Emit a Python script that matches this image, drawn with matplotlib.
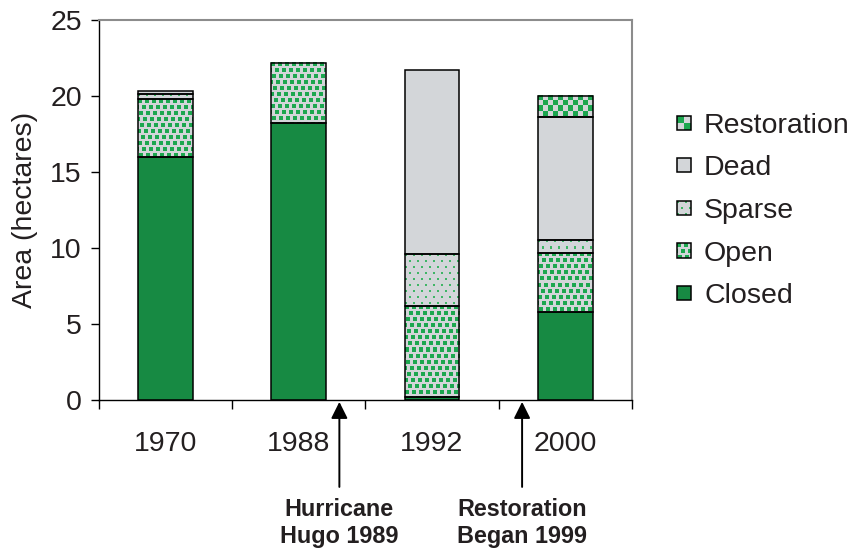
import matplotlib
matplotlib.use("Agg")
import matplotlib.pyplot as plt
import numpy as np
from matplotlib.patches import Patch, Rectangle
from matplotlib.legend_handler import HandlerBase
from matplotlib.ticker import FixedLocator

plt.rcParams['font.family'] = ['Liberation Sans', 'DejaVu Sans']

# ---------------------------------------------------------------------------
# Data (hectares)
# ---------------------------------------------------------------------------
years = ['1970', '1988', '1992', '2000']
closed = [16.0, 18.2, 0.2, 5.8]
open_ = [3.8, 4.0, 6.0, 3.9]
sparse = [0.3, 0.0, 3.4, 0.8]
dead = [0.2, 0.0, 12.1, 8.1]
restoration = [0.0, 0.0, 0.0, 1.4]

series_names = ['Closed', 'Open', 'Sparse', 'Dead', 'Restoration']
series_vals = [closed, open_, sparse, dead, restoration]

events = ['Hurricane\nHugo 1989', 'Restoration\nBegan 1999']
event_pos = [1.306, 2.676]   # position along the category axis

# ---------------------------------------------------------------------------
# Style
# ---------------------------------------------------------------------------
GREEN = '#178a43'
DOT = '#1ca74f'
LIGHT_DOT = '#3fb565'
GRAY = '#d3d6d9'
TEXT = '#231f20'
BAR_W = 0.41
FS = 20.5

STYLES = {
    'Closed':      {'face': GREEN, 'tex': None},
    'Open':        {'face': GRAY, 'tex': 'open'},
    'Sparse':      {'face': GRAY, 'tex': 'sparse'},
    'Dead':        {'face': GRAY, 'tex': None},
    'Restoration': {'face': GRAY, 'tex': 'checker'},
}


def texture(kind, w, h):
    img = np.empty((h, w, 3))
    img[:] = matplotlib.colors.to_rgb(GRAY)
    yy, xx = np.mgrid[0:h, 0:w]
    if kind == 'open':
        row = yy // 6
        mask = ((xx + row * 3) % 7 < 4) & (yy % 6 < 4)
        col = DOT
    elif kind == 'sparse':
        row = yy // 6
        mask = ((xx + row * 4) % 8 < 2) & (yy % 6 < 2)
        col = LIGHT_DOT
    else:
        mask = ((xx // 5 + yy // 5) % 2 == 0)
        col = DOT
    img[mask] = matplotlib.colors.to_rgb(col)
    return img, mask


class SwatchHandler(HandlerBase):
    def __init__(self, kind, face):
        super().__init__()
        self.kind = kind
        self.face = face

    def create_artists(self, legend, orig_handle, xdescent, ydescent,
                       width, height, fontsize, trans):
        s = min(width, height)
        x0 = -xdescent
        y0 = -ydescent + (height - s) / 2
        arts = [Rectangle((x0, y0), s, s, facecolor=self.face,
                          edgecolor='none', transform=trans)]
        if self.kind:
            n = max(2, int(round(s / 0.72)))
            px = s / n
            if self.kind == 'checker':
                half = (np.arange(n) >= n / 2).astype(int)
                mask = (half[:, None] + half[None, :]) % 2 == 0
                col = DOT
            else:
                _, mask = texture(self.kind, n, n)
                col = DOT if self.kind == 'open' else LIGHT_DOT
            for r, c in zip(*np.nonzero(mask)):
                arts.append(Rectangle((x0 + c * px, y0 + s - (r + 1) * px), px, px,
                                      facecolor=col, edgecolor='none',
                                      transform=trans))
        arts.append(Rectangle((x0, y0), s, s, fill=False, edgecolor='black',
                              lw=1.1, transform=trans))
        return arts


# ---------------------------------------------------------------------------
# Figure
# ---------------------------------------------------------------------------
fig = plt.figure(figsize=(8.51, 5.50), dpi=100)
ax = fig.add_axes([98.5 / 851, 1 - 400 / 550, (632 - 98.5) / 851, 380 / 550])
ax.set_xlim(-0.5, 3.5)
ax.set_ylim(0, 25)

x = np.arange(len(years))
bottom = np.zeros(len(years))
for name, vals in zip(series_names, series_vals):
    vals = np.asarray(vals, dtype=float)
    st = STYLES[name]
    keep = vals > 0
    bars = ax.bar(x[keep], vals[keep], BAR_W, bottom=bottom[keep],
                  color=st['face'], edgecolor='none', zorder=2)
    for rect in bars:
        if st['tex']:
            bx, by = rect.get_x(), rect.get_y()
            bw, bh = rect.get_width(), rect.get_height()
            p0 = ax.transData.transform((bx, by))
            p1 = ax.transData.transform((bx + bw, by + bh))
            wpx = max(1, int(round(p1[0] - p0[0])))
            hpx = max(1, int(round(p1[1] - p0[1])))
            img, _ = texture(st['tex'], wpx, hpx)
            ax.imshow(img, extent=(bx, bx + bw, by, by + bh), aspect='auto',
                      interpolation='nearest', zorder=2.5)
    ax.bar(x[keep], vals[keep], BAR_W, bottom=bottom[keep], fill=False,
           edgecolor='black', lw=1.1, zorder=3)
    bottom += vals

ax.set_xlim(-0.5, 3.5)
ax.set_ylim(0, 25)

# axes styling
ax.set_xticks(x)
ax.set_xticklabels(years)
ax.xaxis.set_minor_locator(FixedLocator(np.arange(-0.5, 4.0, 1.0)))
ax.tick_params(axis='x', which='major', length=0, pad=22, labelsize=FS,
               labelcolor=TEXT)
ax.tick_params(axis='x', which='minor', length=6.5, width=1, direction='out')
ax.set_yticks(np.arange(0, 26, 5))
ax.tick_params(axis='y', length=6, width=1, pad=6, labelsize=FS,
               labelcolor=TEXT)
ax.set_ylabel('Area (hectares)', fontsize=FS, color=TEXT, labelpad=9)
for side in ('top', 'right'):
    ax.spines[side].set_color('#8c8c8c')
    ax.spines[side].set_linewidth(1.5)
for side in ('left', 'bottom'):
    ax.spines[side].set_color('black')
    ax.spines[side].set_linewidth(1.0)

# event arrows
for label, xpos in zip(events, event_pos):
    ax.annotate(label, xy=(xpos, -0.005), xycoords=('data', 'axes fraction'),
                xytext=(xpos, -0.258), textcoords=('data', 'axes fraction'),
                ha='center', va='top', fontsize=16.8, fontweight='bold',
                color=TEXT, annotation_clip=False, linespacing=1.2,
                arrowprops=dict(arrowstyle='-|>,head_length=0.5,head_width=0.25',
                                mutation_scale=20, color='black', lw=1.4,
                                shrinkA=6, shrinkB=0, relpos=(0.5, 1.0)))

# legend (top to bottom: reverse stacking order)
handles, labels, hmap = [], [], {}
for name in reversed(series_names):
    st = STYLES[name]
    h = Patch(facecolor=st['face'])
    handles.append(h)
    labels.append(name)
    hmap[h] = SwatchHandler(st['tex'], st['face'])

leg = fig.legend(handles, labels, handler_map=hmap, loc='center left',
                 bbox_to_anchor=(676.5 / 851, 1 - 211 / 550), frameon=False,
                 fontsize=FS, handlelength=0.5, handleheight=0.5,
                 handletextpad=0.47, labelspacing=0.58, borderpad=0,
                 borderaxespad=0)
for t in leg.get_texts():
    t.set_color(TEXT)

fig.savefig('out.png', dpi=100)
